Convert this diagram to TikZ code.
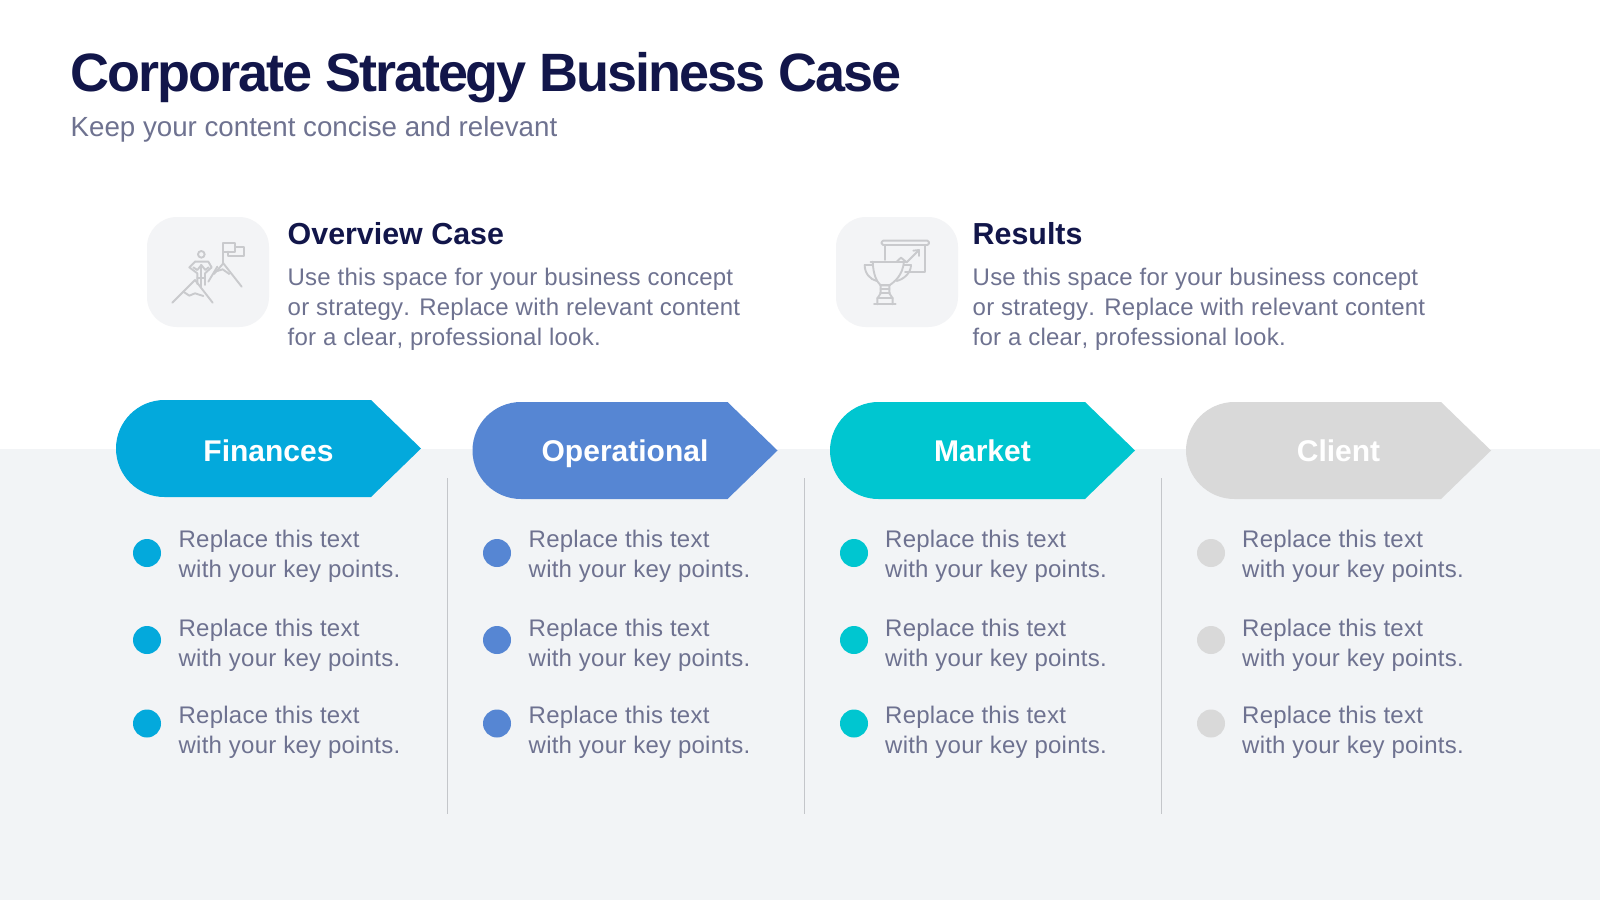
\documentclass[tikz,border=0pt]{standalone}
\usepackage{fontspec}
\setmainfont{Liberation Sans}
\newfontfamily\titlefam[LetterSpace=-3.8]{Liberation Sans}
\newfontfamily\bodyfam[LetterSpace=1.0,Kerning=Off]{Liberation Sans}
\definecolor{bgc}{HTML}{F2F4F6}
\definecolor{navy}{HTML}{12164A}
\definecolor{txt}{HTML}{6E7290}
\definecolor{icn}{HTML}{C9CACD}
\definecolor{cardc}{HTML}{F3F4F6}
\definecolor{cA}{HTML}{03A9DC}
\definecolor{cB}{HTML}{5686D3}
\definecolor{cC}{HTML}{00C6D0}
\definecolor{cD}{HTML}{D9D9D9}
\definecolor{divc}{HTML}{C4C6CA}
\tikzset{
 x=1pt,y=-1pt,
 titletext/.style={inner sep=0pt,anchor=base west,text=navy,font=\titlefam\fontsize{54}{54}\selectfont\bfseries},
 subtext/.style={inner sep=0pt,anchor=base west,text=txt,font=\fontsize{27.7}{28}\selectfont},
 headtext/.style={inner sep=0pt,anchor=base west,text=navy,font=\fontsize{30.4}{31}\selectfont\bfseries},
 bodytext/.style={inner sep=0pt,anchor=west,align=left,text=txt,font=\bodyfam\fontsize{24}{30}\selectfont},
 tagtext/.style={inner sep=0pt,anchor=base,text=white,font=\fontsize{30}{31}\selectfont\bfseries},
 iconline/.style={draw=icn,line width=1.9pt,line cap=round,line join=round},
 card/.style={fill=cardc,rounded corners=30pt},
}
\begin{document}
\begin{tikzpicture}
\useasboundingbox (0,0) rectangle (1600,900);
\fill[white] (0,0) rectangle (1600,900);
\fill[bgc] (0,449) rectangle (1600,900);
\node[titletext] (title) at (70.5,91) {Corporate Strategy Business Case};
\node[subtext] (sub) at (70.5,136) {Keep your content concise and relevant};
% cards
\fill[card] (147,217) rectangle (269,327);
\fill[card] (836,217) rectangle (958,327);
\node[headtext] (h1) at (287.5,244) {Overview Case};
\node[headtext] (h2) at (972.5,244) {Results};
\node[bodytext] (b1) at (287.5,309.5) {Use this space for your business concept\\or strategy. Replace with relevant content\\for a clear, professional look.};
\node[bodytext] (b2) at (972.5,309.5) {Use this space for your business concept\\or strategy. Replace with relevant content\\for a clear, professional look.};
% mountain icon
\begin{scope}[shift={(140,210)},x=0.3333pt,y=-0.3333pt]
\draw[iconline] (97,278)--(165,210)--(218,278);
\draw[iconline] (130,245)--(148,257)--(165,250)--(190,258);
\draw[iconline] (222,192)--(250,160)--(305,230);
\draw[iconline] (232,183)--(248,178)--(268,192);
\draw[iconline] (250,160)--(250,100)--(285,100)--(285,125)--(250,125);
\draw[iconline] (285,112)--(312,112)--(312,137)--(265,137)--(265,125);
\draw[iconline] (184,133) circle (10);
\draw[iconline] (165,155)--(205,155)--(215,172)--(195,190)--(195,225);
\draw[iconline] (165,155)--(148,172)--(172,190)--(172,222);
\draw[iconline] (160,172)--(172,180)--(184,165)--(196,180)--(206,172);
\draw[iconline] (184,165)--(184,232);
\draw[iconline] (172,205)--(195,205);
\draw[iconline] (205,215)--(232,170);
\end{scope}
% trophy icon
\begin{scope}[shift={(830,210)},x=0.3333pt,y=-0.3333pt]
\draw[iconline,rounded corners=1.5pt] (155,92) rectangle (297,105);
\draw[iconline] (165,105)--(165,150);
\draw[iconline] (285,105)--(285,185)--(225,185);
\draw[iconline] (200,155)--(213,143)--(230,157)--(265,122);
\draw[iconline] (250,122)--(267,120)--(267,138);
\draw[iconline] (122,155)--(226,155);
\draw[iconline] (128,155) .. controls (130,195) and (140,215) .. (152,226)--(178,226) .. controls (195,215) and (218,195) .. (222,155);
\draw[iconline] (125,165)--(104,165) .. controls (104,190) and (120,208) .. (140,213);
\draw[iconline] (222,165)--(243,165) .. controls (243,190) and (220,208) .. (200,213);
\draw[iconline] (150,226)--(180,226);
\draw[iconline] (152,238)--(178,238);
\draw[iconline] (150,250)--(180,250);
\draw[iconline] (152,226)--(152,250)--(142,265)--(142,283);
\draw[iconline] (178,226)--(178,250)--(188,265)--(188,283);
\draw[iconline] (142,265)--(188,265);
\draw[iconline] (132,283)--(197,283);
\end{scope}
% dividers
\foreach \x/\n in {447/1,804/2,1161/3} \draw[divc,line width=1pt] (\x,478)--(\x,814);
% columns
\foreach \id/\ax/\ay/\col/\name/\dx/\tx in {
 a/116/400/cA/Finances/147/178.5,
 b/472.5/402/cB/Operational/497/528.5,
 c/830/402/cC/Market/854/885,
 d/1186/402/cD/Client/1211/1242}{
 \fill[\col] (\ax+48.5,\ay) -- (\ax+255,\ay) -- (\ax+305,\ay+48.5) -- (\ax+255,\ay+97) -- (\ax+48.5,\ay+97)
   arc[start angle=-90,end angle=-270,radius=48.5,x radius=48.5pt,y radius=48.5pt] -- cycle;
 \node[tagtext] (tag\id) at (\ax+152.5,461) {\name};
 \foreach \y/\tyy/\k in {553/556.5/1,640/645/2,723.5/732.5/3}{
  \fill[\col] (\dx,\y) circle[radius=14pt];
  \node[bodytext] (t\id\k) at (\tx,\tyy) {Replace this text\\with your key points.};
 }
}
\end{tikzpicture}
\end{document}
